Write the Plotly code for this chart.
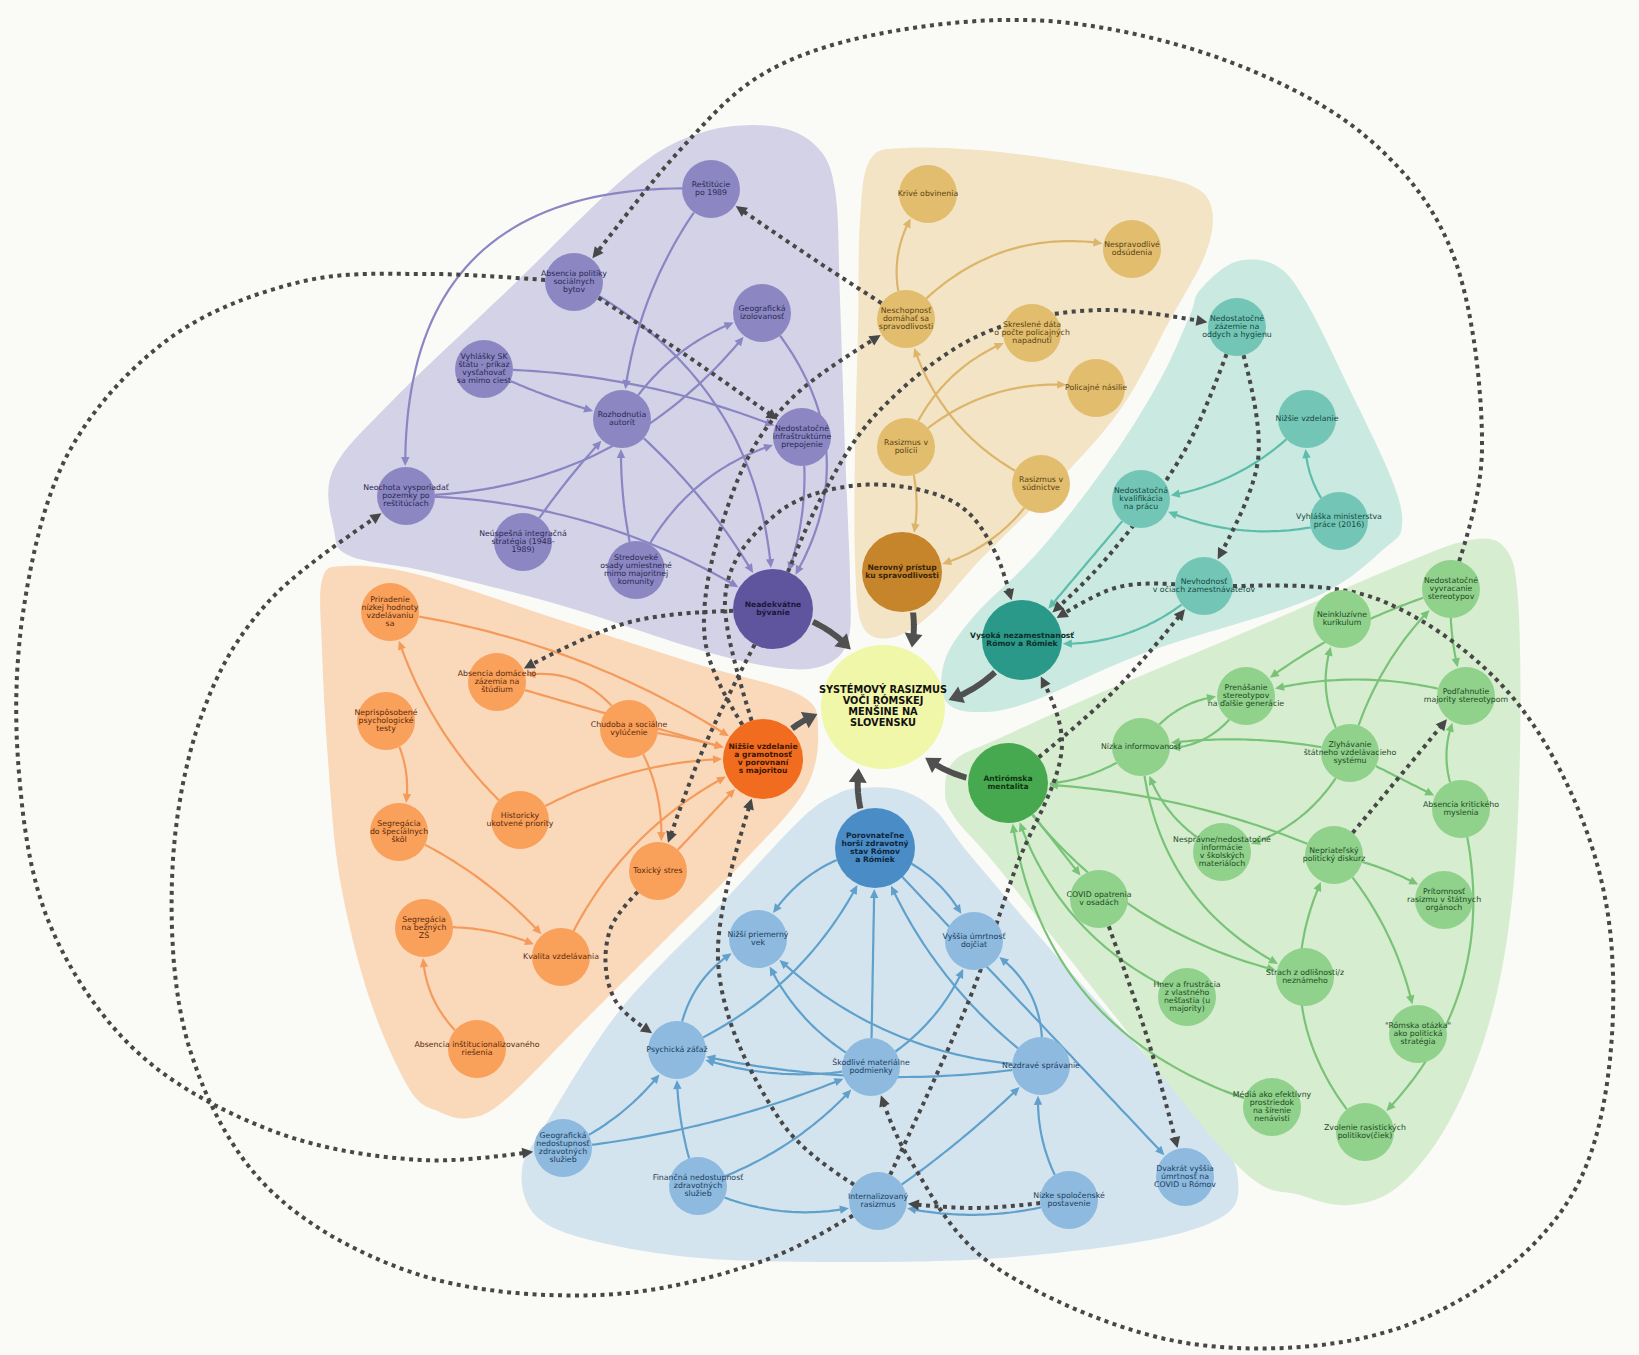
import numpy as np
import plotly.graph_objects as go

W, H = 1639, 1355

# ===================== DATA =====================
CENTER_ID = "C"
CENTER_LABEL = "SYSTÉMOVÝ RASIZMUS<br>VOČI RÓMSKEJ<br>MENŠINE NA<br>SLOVENSKU"

hub_ids = ["H0", "J0", "E0", "M0", "Z0", "V0"]

byvanie_ids = ["H0", "H1", "H2", "H3", "H4", "H5", "H6", "H7", "H8", "H9"]
byvanie_labels = [
    "Neadekvátne<br>bývanie", "Reštitúcie<br>po 1989", "Absencia politiky<br>sociálnych<br>bytov",
    "Geografická<br>izolovanosť", "Vyhlášky SK<br>štátu - príkaz<br>vysťahovať<br>sa mimo ciest",
    "Rozhodnutia<br>autorít", "Nedostatočné<br>infraštruktúrne<br>prepojenie",
    "Neochota vysporiadať<br>pozemky po<br>reštitúciach", "Neúspešná integračná<br>stratégia (1948-<br>1989)",
    "Stredoveké<br>osady umiestnené<br>mimo majoritnej<br>komunity"]
byvanie_edges = [("H1", "H5"), ("H1", "H7"), ("H4", "H5"), ("H4", "H6"), ("H5", "H3"), ("H7", "H3"),
                 ("H7", "H0"), ("H8", "H5"), ("H9", "H5"), ("H9", "H6"), ("H2", "H0"), ("H5", "H0"),
                 ("H3", "H0"), ("H6", "H0")]

spravodlivost_ids = ["J0", "J1", "J2", "J3", "J4", "J5", "J6", "J7"]
spravodlivost_labels = [
    "Nerovný prístup<br>ku spravodlivosti", "Krivé obvinenia", "Nespravodlivé<br>odsúdenia",
    "Neschopnosť<br>domáhať sa<br>spravodlivosti", "Skreslené dáta<br>o počte policajných<br>napadnutí",
    "Policajné násilie", "Rasizmus v<br>polícii", "Rasizmus v<br>súdnictve"]
spravodlivost_edges = [("J3", "J1"), ("J3", "J2"), ("J6", "J4"), ("J6", "J5"), ("J7", "J3"),
                       ("J6", "J0"), ("J7", "J0")]

zamestnanost_ids = ["E0", "E1", "E2", "E3", "E4", "E5"]
zamestnanost_labels = [
    "Vysoká nezamestnanosť<br>Rómov a Rómiek", "Nedostatočné<br>zázemie na<br>oddych a hygienu",
    "Nižšie vzdelanie", "Nedostatočná<br>kvalifikácia<br>na prácu", "Vyhláška ministerstva<br>práce (2016)",
    "Nevhodnosť<br>v očiach zamestnávateľov"]
zamestnanost_edges = [("E2", "E3"), ("E4", "E2"), ("E4", "E3"), ("E3", "E0"), ("E5", "E0")]

mentalita_ids = ["M0", "M1", "M2", "M3", "M4", "M5", "M6", "M7", "M8", "M9", "M10", "M11", "M12",
                 "M13", "M14", "M15", "M16"]
mentalita_labels = [
    "Antirómska<br>mentalita", "Nedostatočné<br>vyvracanie<br>stereotypov", "Neinkluzívne<br>kurikulum",
    "Prenášanie<br>stereotypov<br>na ďalšie generácie", "Podľahnutie<br>majority stereotypom",
    "Nízka informovanosť", "Zlyhávanie<br>štátneho vzdelávacieho<br>systému",
    "Absencia kritického<br>myslenia", "Nesprávne/nedostatočné<br>informácie<br>v školských<br>materiáloch",
    "Nepriateľský<br>politický diskurz", "COVID opatrenia<br>v osadách",
    "Prítomnosť<br>rasizmu v štátnych<br>orgánoch",
    "Hnev a frustrácia<br>z vlastného<br>nešťastia (u<br>majority)", "Strach z odlišnosti/z<br>neznámeho",
    "\"Rómska otázka\"<br>ako politická<br>stratégia", "Médiá ako efektívny<br>prostriedok<br>na šírenie<br>nenávisti",
    "Zvolenie rasistických<br>politikov(čiek)"]
mentalita_edges = [("M1", "M4"), ("M4", "M3"), ("M1", "M3"), ("M6", "M1"), ("M6", "M2"), ("M6", "M7"),
                   ("M6", "M5"), ("M5", "M3"), ("M3", "M5"), ("M5", "M0"), ("M8", "M5"), ("M6", "M8"),
                   ("M9", "M0"), ("M9", "M11"), ("M9", "M14"), ("M0", "M13"), ("M5", "M13"),
                   ("M0", "M10"), ("M12", "M0"), ("M15", "M0"), ("M16", "M9"), ("M7", "M16"), ("M7", "M4")]

zdravie_ids = ["Z0", "Z1", "Z2", "Z3", "Z4", "Z5", "Z6", "Z7", "Z8", "Z9", "Z10"]
zdravie_labels = [
    "Porovnateľne<br>horší zdravotný<br>stav Rómov<br>a Rómiek", "Nižší priemerný<br>vek",
    "Vyššia úmrtnosť<br>dojčiat", "Psychická záťaž", "Škodlivé materiálne<br>podmienky",
    "Nezdravé správanie", "Geografická<br>nedostupnosť<br>zdravotných<br>služieb",
    "Finančná nedostupnosť<br>zdravotných<br>služieb", "Internalizovaný<br>rasizmus",
    "Nízke spoločenské<br>postavenie", "Dvakrát vyššia<br>úmrtnosť na<br>COVID u Rómov"]
zdravie_edges = [("Z0", "Z1"), ("Z0", "Z2"), ("Z3", "Z0"), ("Z3", "Z1"), ("Z4", "Z0"), ("Z4", "Z1"),
                 ("Z4", "Z2"), ("Z4", "Z3"), ("Z5", "Z3"), ("Z6", "Z3"), ("Z6", "Z4"), ("Z7", "Z3"),
                 ("Z7", "Z4"), ("Z7", "Z8"), ("Z5", "Z0"), ("Z5", "Z1"), ("Z5", "Z2"), ("Z0", "Z10"),
                 ("Z8", "Z5"), ("Z9", "Z5"), ("Z9", "Z8")]

vzdelanie_ids = ["V0", "V1", "V2", "V3", "V4", "V5", "V6", "V7", "V8", "V9", "V10"]
vzdelanie_labels = [
    "Nižšie vzdelanie<br>a gramotnosť<br>v porovnaní<br>s majoritou",
    "Priradenie<br>nízkej hodnoty<br>vzdelávaniu<br>sa", "Absencia domáceho<br>zázemia na<br>štúdium",
    "Neprispôsobené<br>psychologické<br>testy", "Chudoba a sociálne<br>vylúčenie",
    "Historicky<br>ukotvené priority", "Segregácia<br>do špeciálnych<br>škôl", "Toxický stres",
    "Segregácia<br>na bežných<br>ZŠ", "Kvalita vzdelávania", "Absencia inštitucionalizovaného<br>riešenia"]
vzdelanie_edges = [("V1", "V0"), ("V4", "V2"), ("V2", "V0"), ("V4", "V0"), ("V4", "V7"), ("V5", "V1"),
                   ("V5", "V0"), ("V3", "V6"), ("V6", "V9"), ("V8", "V9"), ("V10", "V8"), ("V9", "V0"),
                   ("V7", "V0")]

# cross-group influences (dotted)
dotted_edges = [("H0", "V2"), ("J3", "H1"), ("M1", "H2"), ("H2", "Z6"), ("Z8", "H7"), ("H2", "H6"),
                ("V0", "E0"), ("V0", "J3"), ("H0", "E1"), ("H0", "V7"), ("Z8", "V0"), ("V7", "Z3"),
                ("E5", "Z4"), ("M10", "Z10"), ("Z8", "E0"), ("M0", "E5"), ("E5", "E0"), ("E1", "E0"),
                ("E1", "E5"), ("M9", "M4"), ("Z9", "Z8")]

# ===================== LAYOUT (positions / styles) =====================
POS = {
    "C": (883, 707),
    "H0": (773, 609), "H1": (711, 189), "H2": (574, 282), "H3": (762, 313), "H4": (484, 369),
    "H5": (622, 419), "H6": (802, 437), "H7": (406, 496), "H8": (523, 542), "H9": (636, 570),
    "J0": (902, 572), "J1": (928, 194), "J2": (1132, 249), "J3": (906, 319), "J4": (1032, 333),
    "J5": (1096, 388), "J6": (906, 447), "J7": (1041, 484),
    "E0": (1022, 640), "E1": (1237, 327), "E2": (1307, 419), "E3": (1141, 499), "E4": (1339, 521),
    "E5": (1204, 586),
    "M0": (1008, 783), "M1": (1451, 589), "M2": (1342, 619), "M3": (1246, 696), "M4": (1466, 696),
    "M5": (1141, 747), "M6": (1350, 753), "M7": (1461, 809), "M8": (1222, 852), "M9": (1334, 855),
    "M10": (1099, 899), "M11": (1444, 900), "M12": (1187, 997), "M13": (1305, 977), "M14": (1418, 1034),
    "M15": (1272, 1107), "M16": (1365, 1132),
    "Z0": (875, 848), "Z1": (758, 939), "Z2": (974, 941), "Z3": (677, 1050), "Z4": (871, 1067),
    "Z5": (1041, 1066), "Z6": (563, 1148), "Z7": (698, 1186), "Z8": (878, 1201), "Z9": (1069, 1200),
    "Z10": (1185, 1177),
    "V0": (763, 759), "V1": (390, 612), "V2": (497, 682), "V3": (386, 721), "V4": (629, 729),
    "V5": (520, 820), "V6": (399, 832), "V7": (658, 871), "V8": (424, 928), "V9": (561, 957),
    "V10": (477, 1049),
}
R_NODE, R_HUB, R_CENTER = 29, 40, 62

BEND = {
    ("H1", "H5"): 0.15, ("H1", "H7"): 0.55, ("H4", "H5"): 0.05, ("H4", "H6"): -0.1, ("H5", "H3"): -0.2,
    ("H7", "H3"): 0.25, ("H7", "H0"): -0.15, ("H8", "H5"): -0.05, ("H9", "H5"): -0.08, ("H9", "H6"): -0.25,
    ("H2", "H0"): -0.3, ("H5", "H0"): -0.1, ("H3", "H0"): -0.4, ("H6", "H0"): -0.15,
    ("J3", "J1"): -0.3, ("J3", "J2"): -0.3, ("J6", "J4"): -0.25, ("J6", "J5"): -0.25, ("J7", "J3"): -0.25,
    ("J6", "J0"): -0.2, ("J7", "J0"): -0.25,
    ("E2", "E3"): -0.2, ("E4", "E2"): -0.25, ("E4", "E3"): -0.2, ("E3", "E0"): 0.0, ("E5", "E0"): -0.25,
    ("M1", "M4"): 0.1, ("M4", "M3"): 0.15, ("M1", "M3"): 0.1, ("M6", "M1"): -0.15, ("M6", "M2"): -0.3,
    ("M6", "M7"): 0.0, ("M6", "M5"): 0.1, ("M5", "M3"): -0.3, ("M3", "M5"): -0.35, ("M5", "M0"): -0.2,
    ("M8", "M5"): -0.25, ("M6", "M8"): -0.25, ("M9", "M0"): 0.1, ("M9", "M11"): -0.1, ("M9", "M14"): -0.15,
    ("M0", "M13"): 0.2, ("M5", "M13"): 0.3, ("M0", "M10"): 0.0, ("M12", "M0"): -0.25, ("M15", "M0"): -0.35,
    ("M16", "M9"): -0.35, ("M7", "M16"): -0.3, ("M7", "M4"): -0.3,
    ("Z0", "Z1"): 0.25, ("Z0", "Z2"): -0.25, ("Z3", "Z0"): 0.2, ("Z3", "Z1"): -0.3, ("Z4", "Z0"): 0.0,
    ("Z4", "Z1"): -0.2, ("Z4", "Z2"): 0.2, ("Z4", "Z3"): -0.15, ("Z5", "Z3"): -0.1, ("Z6", "Z3"): 0.15,
    ("Z6", "Z4"): 0.08, ("Z7", "Z3"): -0.1, ("Z7", "Z4"): 0.15, ("Z7", "Z8"): 0.2, ("Z5", "Z0"): -0.15,
    ("Z5", "Z1"): -0.2, ("Z5", "Z2"): 0.35, ("Z0", "Z10"): 0.0, ("Z8", "Z5"): 0.05, ("Z9", "Z5"): -0.2,
    ("Z9", "Z8"): -0.15,
    ("V1", "V0"): -0.12, ("V4", "V2"): 0.4, ("V2", "V0"): 0.0, ("V4", "V0"): -0.05, ("V4", "V7"): -0.2,
    ("V5", "V1"): -0.15, ("V5", "V0"): -0.15, ("V3", "V6"): -0.25, ("V6", "V9"): -0.12, ("V8", "V9"): -0.15,
    ("V10", "V8"): -0.3, ("V9", "V0"): -0.2, ("V7", "V0"): 0.0,
}

ROUTES = {
    ("H0", "V2"): [(630, 622)],
    ("J3", "H1"): [(812, 258)],
    ("M1", "H2"): [(1482, 450), (1455, 260), (1370, 140), (1230, 62), (1060, 22), (900, 30), (770, 70), (680, 150)],
    ("H2", "Z6"): [(430, 274), (300, 282), (170, 338), (70, 450), (25, 600), (18, 760), (48, 920), (135, 1050),
                   (270, 1130), (420, 1160)],
    ("Z8", "H7"): [(760, 1262), (600, 1295), (420, 1275), (270, 1190), (190, 1050), (172, 880), (200, 720), (270, 600)],
    ("H2", "H6"): [(690, 358)],
    ("V0", "E0"): [(725, 600), (775, 515), (860, 485), (950, 500), (995, 552)],
    ("V0", "J3"): [(705, 640), (730, 500), (790, 400)],
    ("H0", "E1"): [(820, 500), (880, 410), (980, 335), (1100, 310)],
    ("H0", "V7"): [(705, 745)],
    ("Z8", "V0"): [(780, 1120), (718, 960)],
    ("V7", "Z3"): [(610, 930), (615, 1000)],
    ("E5", "Z4"): [(1380, 600), (1530, 720), (1610, 930), (1580, 1180), (1420, 1320), (1200, 1345), (1000, 1270), (910, 1160)],
    ("M10", "Z10"): [(1148, 1040)],
    ("Z8", "E0"): [(965, 1010), (1015, 870), (1062, 745)],
    ("M0", "E5"): [(1115, 690)],
    ("E5", "E0"): [(1115, 588)],
    ("E1", "E0"): [(1185, 450), (1105, 560)],
    ("E1", "E5"): [(1258, 460)],
    ("M9", "M4"): [(1405, 770)],
    ("Z9", "Z8"): [(975, 1208)],
}

BLOBS = {
    "H": [(333, 470), (393, 400), (510, 288), (630, 173), (700, 133), (770, 126), (815, 145), (835, 190),
          (840, 300), (845, 450), (850, 580), (848, 640), (825, 665), (780, 668), (700, 650), (560, 605),
          (430, 572), (350, 556), (334, 530)],
    "V": [(322, 580), (345, 566), (420, 575), (560, 620), (700, 665), (800, 695), (818, 730), (805, 790),
          (745, 860), (660, 945), (580, 1025), (505, 1100), (470, 1118), (440, 1112), (410, 1090),
          (370, 1000), (340, 880), (328, 760), (322, 650)],
    "Z": [(860, 788), (900, 790), (935, 810), (970, 855), (1060, 960), (1150, 1060), (1220, 1140),
          (1238, 1180), (1225, 1215), (1150, 1240), (1000, 1258), (850, 1262), (700, 1258), (590, 1240),
          (535, 1215), (522, 1170), (545, 1125), (620, 1010), (720, 905), (800, 820), (835, 795)],
    "M": [(945, 790), (955, 760), (1000, 738), (1100, 693), (1250, 630), (1400, 565), (1470, 540),
          (1505, 548), (1518, 600), (1520, 750), (1512, 900), (1490, 1020), (1450, 1120), (1400, 1185),
          (1350, 1205), (1300, 1195), (1240, 1168), (1110, 1010), (1000, 870), (955, 818)],
    "E": [(1200, 290), (1235, 262), (1275, 265), (1305, 300), (1350, 390), (1392, 480), (1402, 525),
          (1385, 548), (1313, 598), (1147, 652), (1030, 702), (975, 712), (945, 700), (945, 660),
          (975, 615), (1040, 550), (1110, 460), (1160, 380), (1190, 315)],
    "J": [(870, 160), (905, 148), (1000, 152), (1120, 170), (1190, 185), (1212, 210), (1205, 255),
          (1170, 320), (1120, 410), (1050, 490), (980, 560), (930, 615), (890, 638), (862, 625),
          (855, 560), (855, 450), (858, 330), (860, 220)],
}

STYLE = {
    "H": dict(blob="#d4d2e6", node="#8c87c3", hub="#5f559f", edge="#8a85c3", text="#2b2752", htext="#1c1838"),
    "J": dict(blob="#f2e4c5", node="#e1bd6d", hub="#c6842b", edge="#dcb56b", text="#5a4212", htext="#3a2608"),
    "E": dict(blob="#c9e9e1", node="#73c6b6", hub="#2b998a", edge="#5dbdab", text="#15483f", htext="#0c2f29"),
    "M": dict(blob="#d7edcf", node="#90d18c", hub="#47a94f", edge="#79c378", text="#1e4a1f", htext="#123414"),
    "Z": dict(blob="#d4e4ef", node="#8dbade", hub="#4a8dc6", edge="#60a1cc", text="#1d3d5c", htext="#10263d"),
    "V": dict(blob="#fad9bb", node="#f9a05a", hub="#f26c1f", edge="#f49b5c", text="#5a2a0b", htext="#3a1806"),
}
BG = "#fafaf7"
DOT_COLOR = "#474747"
HUBARROW_COLOR = "#505050"
FONT = "DejaVu Sans"
NODE_FS, HUB_FS, CENTER_FS = 7.8, 7.6, 9.8
NODE_LS, HUB_LS, CENTER_LS = 7.8, 8.0, 11.0

GROUPS = {
    "H": (byvanie_ids, byvanie_labels, byvanie_edges),
    "J": (spravodlivost_ids, spravodlivost_labels, spravodlivost_edges),
    "E": (zamestnanost_ids, zamestnanost_labels, zamestnanost_edges),
    "M": (mentalita_ids, mentalita_labels, mentalita_edges),
    "Z": (zdravie_ids, zdravie_labels, zdravie_edges),
    "V": (vzdelanie_ids, vzdelanie_labels, vzdelanie_edges),
}


# ===================== GEOMETRY HELPERS =====================
def radius(nid):
    if nid == CENTER_ID:
        return R_CENTER
    return R_HUB if nid in hub_ids else R_NODE


def quad_pts(p0, p2, bend, n=50):
    p0 = np.array(p0, float); p2 = np.array(p2, float)
    d = p2 - p0; L = np.hypot(*d)
    perp = np.array([-d[1], d[0]]) / L
    c = (p0 + p2) / 2 + bend * L * perp
    t = np.linspace(0, 1, n)[:, None]
    return (1 - t) ** 2 * p0 + 2 * (1 - t) * t * c + t ** 2 * p2


def catmull(pts, n=18, closed=False):
    pts = [np.array(p, float) for p in pts]
    if closed:
        P = [pts[-1]] + pts + [pts[0], pts[1]]
    else:
        P = [pts[0]] + pts + [pts[-1]]
    out = []
    for i in range(1, len(P) - 2):
        p0, p1, p2, p3 = P[i - 1], P[i], P[i + 1], P[i + 2]
        for t in np.linspace(0, 1, n, endpoint=False):
            t2 = t * t; t3 = t2 * t
            out.append(0.5 * ((2 * p1) + (-p0 + p2) * t + (2 * p0 - 5 * p1 + 4 * p2 - p3) * t2
                              + (-p0 + 3 * p1 - 3 * p2 + p3) * t3))
    if not closed:
        out.append(pts[-1])
    return np.array(out)


def boundary(a, b, c, r):
    lo, hi = 0.0, 1.0
    for _ in range(25):
        m = (lo + hi) / 2
        p = a + (b - a) * m
        if np.hypot(*(p - c)) > r:
            lo = m
        else:
            hi = m
    return a + (b - a) * lo


def trim(pts, c0, r0, c1, r1):
    c0 = np.array(c0, float); c1 = np.array(c1, float)
    d0 = np.hypot(*(pts - c0).T); d1 = np.hypot(*(pts - c1).T)
    i = 0
    while i < len(pts) - 1 and d0[i] < r0:
        i += 1
    j = len(pts) - 1
    while j > i and d1[j] < r1:
        j -= 1
    seg = list(pts[i:j + 1])
    if i > 0:
        seg.insert(0, boundary(pts[i], pts[i - 1], c0, r0))
    if j < len(pts) - 1:
        seg.append(boundary(pts[j], pts[j + 1], c1, r1))
    return np.array(seg)


def cut_end(pts, dist):
    seg = np.hypot(*np.diff(pts, axis=0).T)
    acc = 0.0
    for k in range(len(pts) - 1, 0, -1):
        s = seg[k - 1]
        if acc + s >= dist:
            f = (dist - acc) / s
            p = pts[k] + (pts[k - 1] - pts[k]) * f
            return np.vstack([pts[:k], p])
        acc += s
    return pts[:1]


def path_str(pts, close=False):
    s = "M" + " L".join(f"{x:.1f},{y:.1f}" for x, y in pts)
    return s + (" Z" if close else "")


def arrow_shapes(pts, color, width, dash=None, head_len=9, head_w=4.5):
    shapes = []
    if len(pts) < 2:
        return shapes
    tip = pts[-1]
    back = cut_end(pts, head_len)[-1]
    line_pts = cut_end(pts, head_len * 0.6)
    ln = dict(color=color, width=width)
    if dash:
        ln["dash"] = dash
    shapes.append(dict(type="path", path=path_str(line_pts), line=ln, layer="below"))
    d = tip - back
    d = d / (np.hypot(*d) + 1e-9)
    nrm = np.array([-d[1], d[0]])
    base = tip - d * head_len
    tri = [tip, base + nrm * head_w, base - nrm * head_w]
    shapes.append(dict(type="path", path=path_str(tri, close=True), fillcolor=color,
                       line=dict(width=0), layer="below"))
    return shapes


# ===================== BUILD =====================
shapes = []

for g, pts in BLOBS.items():
    outline = catmull(pts, n=14, closed=True)
    shapes.append(dict(type="path", path=path_str(outline, close=True), fillcolor=STYLE[g]["blob"],
                       line=dict(width=0), layer="below"))

for g, (ids, labels, edges) in GROUPS.items():
    col = STYLE[g]["edge"]
    for (s, t) in edges:
        pts = quad_pts(POS[s], POS[t], BEND.get((s, t), 0.0))
        pts = trim(pts, POS[s], radius(s), POS[t], radius(t) + 1)
        shapes += arrow_shapes(pts, col, 2.2, head_len=9, head_w=4.2)

for h in hub_ids:
    pts = quad_pts(POS[h], POS[CENTER_ID], -0.3)
    pts = trim(pts, POS[h], radius(h) + 2, POS[CENTER_ID], R_CENTER + 4)
    shapes += arrow_shapes(pts, HUBARROW_COLOR, 6, head_len=14, head_w=9)

for (s, t) in dotted_edges:
    way = ROUTES.get((s, t), [])
    pts = catmull([POS[s]] + way + [POS[t]], n=24)
    pts = trim(pts, POS[s], radius(s), POS[t], radius(t) + 1)
    shapes += arrow_shapes(pts, DOT_COLOR, 4, dash="4px,4.5px", head_len=11, head_w=5.5)

fig = go.Figure()

tx, ty, tt, ts, tc = [], [], [], [], []


def add_label(nid, label, size, spacing, color, bold):
    lines = label.split("<br>")
    n = len(lines)
    cx, cy = POS[nid]
    for k, ln in enumerate(lines):
        tx.append(cx)
        ty.append(cy + (k - (n - 1) / 2) * spacing)
        tt.append(f"<b>{ln}</b>" if bold else ln)
        ts.append(size)
        tc.append(color)


for g, (ids, labels, edges) in GROUPS.items():
    st = STYLE[g]
    xs = [POS[i][0] for i in ids]
    ys = [POS[i][1] for i in ids]
    sizes = [2 * radius(i) for i in ids]
    cols = [st["hub"] if i in hub_ids else st["node"] for i in ids]
    fig.add_trace(go.Scatter(x=xs, y=ys, mode="markers",
                             marker=dict(size=sizes, color=cols, line=dict(width=0), opacity=1),
                             hoverinfo="text", text=[l.replace("<br>", " ") for l in labels]))
    for i, l in zip(ids, labels):
        if i in hub_ids:
            add_label(i, l, HUB_FS, HUB_LS, st["htext"], True)
        else:
            add_label(i, l, NODE_FS, NODE_LS, st["text"], False)

fig.add_trace(go.Scatter(x=[POS[CENTER_ID][0]], y=[POS[CENTER_ID][1]], mode="markers",
                         marker=dict(size=2 * R_CENTER, color="#f1f7a8", line=dict(width=0)),
                         hoverinfo="skip"))
add_label(CENTER_ID, CENTER_LABEL, CENTER_FS, CENTER_LS, "#111111", True)

fig.add_trace(go.Scatter(x=tx, y=ty, mode="text", text=tt, textposition="middle center",
                         textfont=dict(family=FONT, size=ts, color=tc), hoverinfo="skip"))

fig.update_layout(
    width=W, height=H, margin=dict(l=0, r=0, t=0, b=0),
    paper_bgcolor=BG, plot_bgcolor=BG, showlegend=False,
    xaxis=dict(range=[0, W], visible=False, fixedrange=True),
    yaxis=dict(range=[H, 0], visible=False, fixedrange=True),
    shapes=shapes,
)

fig.write_html("out.html", config={"displayModeBar": False},
               post_script="document.body.style.margin='0';document.body.style.overflow='hidden';")
